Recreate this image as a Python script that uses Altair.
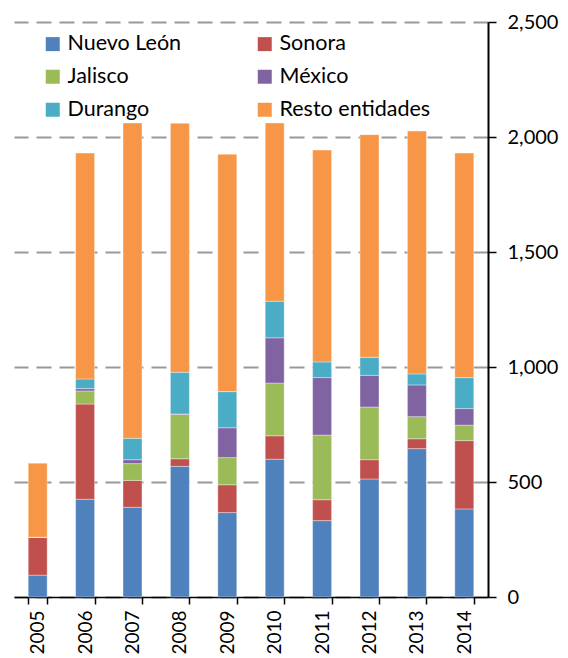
import altair as alt
import pandas as pd

years = [str(y) for y in range(2005, 2015)]
series = ["Nuevo León", "Sonora", "Jalisco", "México", "Durango", "Resto entidades"]
colors = ["#4F81BD", "#C0504D", "#9BBB59", "#8064A2", "#4BACC6", "#F79646"]

nuevo_leon = [95, 425, 390, 568, 367, 599, 332, 513, 645, 383]
sonora = [165, 414, 117, 33, 121, 102, 91, 84, 43, 297]
jalisco = [0, 57, 73, 193, 118, 229, 281, 229, 96, 67]
mexico = [0, 10, 17, 2, 130, 197, 250, 138, 138, 72]
durango = [0, 42, 93, 181, 157, 159, 68, 78, 48, 135]
resto = [322, 982, 1371, 1083, 1032, 775, 921, 968, 1056, 976]

y_ticks = [0, 500, 1000, 1500, 2000, 2500]

values = [nuevo_leon, sonora, jalisco, mexico, durango, resto]
rows = []
for si, (name, vals) in enumerate(zip(series, values)):
    for yr, v in zip(years, vals):
        rows.append({"year": yr, "serie": name, "value": v, "idx": si})
df = pd.DataFrame(rows)

FONT = "Lato"

chart = alt.Chart(df).mark_bar(stroke="white", strokeWidth=0.6, strokeOpacity=0.6).encode(
    x=alt.X("year:N", sort=years,
            scale=alt.Scale(paddingInner=0.6, paddingOuter=0.3),
            axis=alt.Axis(title=None, labelAngle=-90, tickBand="extent",
                          domainColor="black", domainWidth=1.5,
                          tickColor="black", tickSize=7, tickWidth=1.5,
                          labelFontSize=19, labelFont=FONT, labelColor="black",
                          labelPadding=6, grid=False)),
    y=alt.Y("value:Q", stack="zero",
            scale=alt.Scale(domain=[0, 2500], nice=False),
            axis=alt.Axis(title=None, orient="right", values=y_ticks, format=",.0f",
                          grid=True, gridDash=[15, 8], gridColor="#999999", gridWidth=2,
                          domainColor="black", domainWidth=2,
                          tickColor="black", tickSize=8, tickWidth=1.5,
                          labelFontSize=20, labelFont=FONT, labelColor="black",
                          labelPadding=11)),
    color=alt.Color("serie:N", sort=series,
                    scale=alt.Scale(domain=series, range=colors),
                    legend=alt.Legend(title=None, orient="none", legendX=28, legendY=11,
                                      direction="horizontal",
                                      columns=2, symbolType="square", symbolSize=196,
                                      symbolStrokeWidth=0, symbolOpacity=1,
                                      labelFontSize=21.5, labelFont=FONT, labelColor="black",
                                      columnPadding=72, rowPadding=10, labelOffset=4)),
    order=alt.Order("idx:Q", sort="ascending"),
).properties(
    width=474, height=575,
    autosize=alt.AutoSizeParams(type="none"),
    padding={"left": 6, "top": 14, "right": 72, "bottom": 58},
).configure_view(stroke=None)

chart.save("out.html", embed_options={"renderer": "svg", "actions": False})
